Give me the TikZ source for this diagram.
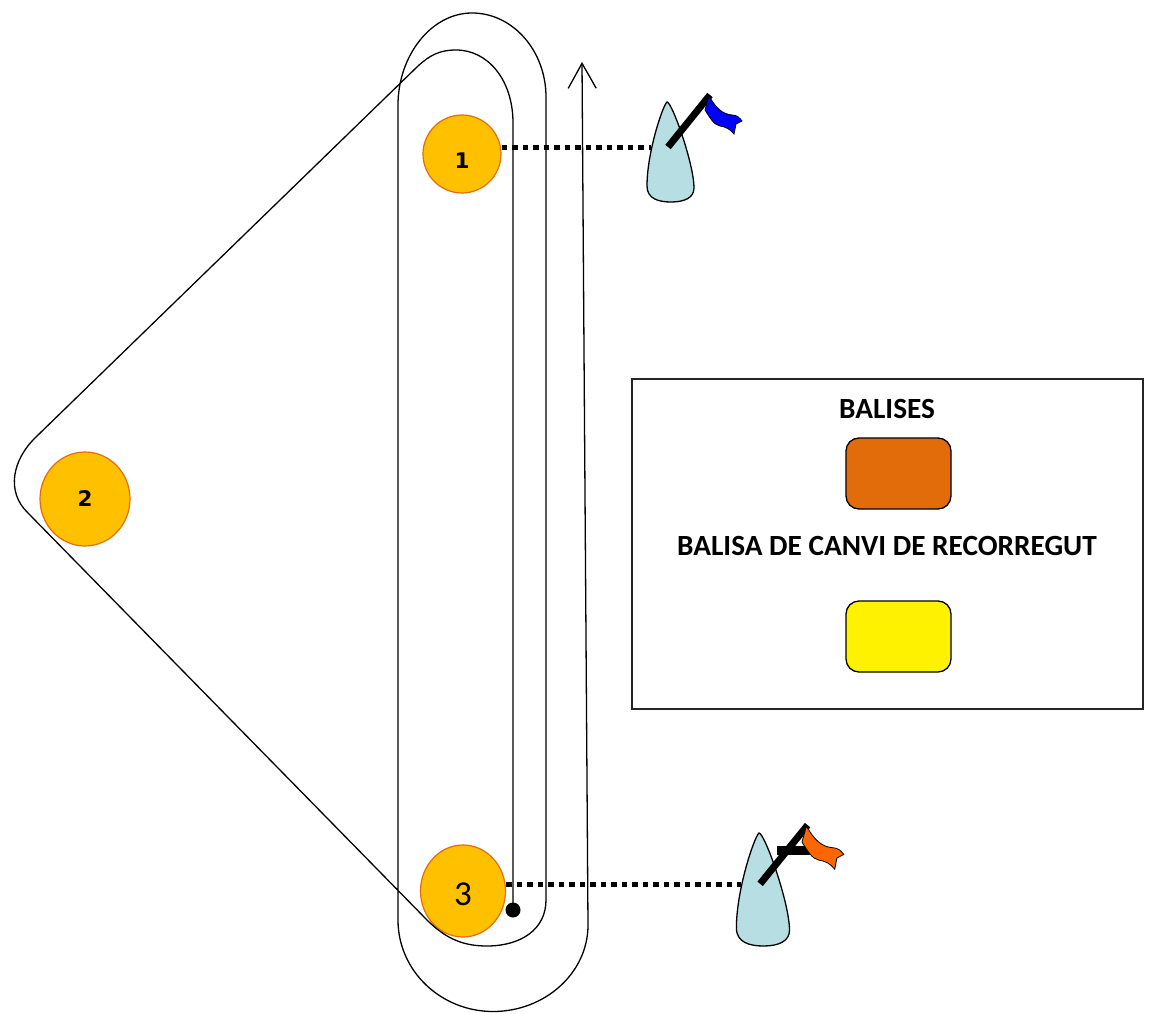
\documentclass[tikz,border=0pt]{standalone}
\usepackage{fontspec}
\newfontfamily\legendfont{Carlito}
\newfontfamily\markfont{DejaVu Sans}
\usetikzlibrary{arrows.meta,shapes.geometric}
\definecolor{buoyfill}{HTML}{FFC000}
\definecolor{buoyedge}{HTML}{E46C0A}
\definecolor{hullblue}{HTML}{B7DEE2}
\definecolor{flagorange}{HTML}{FF6600}
\definecolor{keyorange}{HTML}{E36C0A}
\begin{document}
\begin{tikzpicture}[x=1pt,y=-1pt,>={Straight Barb[length=25pt,width=28pt]},
  course/.style={line width=1.3pt,line join=round},
  buoy/.style={ellipse,draw=buoyedge,fill=buoyfill,line width=1.2pt,inner sep=0pt},
  buoynum/.style={font=\markfont\bfseries\fontsize{21.5}{24}\selectfont},
  tether/.style={line width=5pt,dash pattern=on 5.5pt off 5pt},
  hull/.style={draw,fill=hullblue,line width=1.3pt},
  mast/.style={line width=7pt},
  boat boom/.style={},
  keybox/.style={draw,rounded corners=13pt,line width=1.3pt,minimum width=105pt,minimum height=71pt},
  keytext/.style={font=\legendfont\bfseries\fontsize{29.3}{34}\selectfont},
  pics/boat/.style={code={
    \draw[hull] (0,0) .. controls (-4,3) and (-20,50) .. (-20,84)
      .. controls (-20,97) and (-8,100) .. (4,100)
      .. controls (17,100) and (27,96) .. (27,86)
      .. controls (27,62) and (5,0) .. (0,0) -- cycle;
    \path[boat boom] (16,11.5) rectangle (50,19.5);
    \draw[mast] (1,45) -- (43,-7);
    \draw[fill=#1,line width=0.8pt] (42,-6) .. controls (49,6) and (55,12) .. (65,13)
      .. controls (70,13) and (73,16) .. (75,19) -- (69,22) -- (67,32)
      .. controls (63,27) and (59,25) .. (53,24) .. controls (47,23) and (43,16) .. (38,8) -- cycle;
    \coordinate (-port) at (-16,46);
  }}]
\useasboundingbox (0,0) rectangle (1152,1014);

% marks
\node[buoy,minimum width=78pt,minimum height=78pt,label={[buoynum,yshift=-6.5pt]center:1}] (m1) at (462,154) {};
\node[buoy,minimum width=90pt,minimum height=94pt,label={[buoynum]center:2}] (m2) at (85,499) {};
\node[buoy,minimum width=85pt,minimum height=92pt,label={[font=\legendfont\fontsize{35}{40}\selectfont,yshift=-3.5pt]center:3}] (m3) at (463,891) {};

% course
\node[circle,fill,inner sep=0pt,minimum size=15pt] (start) at (513,910) {};
\draw[course,->] (start.center) -- (513,123)
  .. controls (513,80) and (488,50) .. (456,50)
  .. controls (440,50) and (430,55) .. (418,66)
  -- (36,437) .. controls (12,460) and (6,492) .. (28,513)
  -- (427,920) .. controls (447,940) and (465,946) .. (487,946)
  .. controls (520,946) and (546,930) .. (546,900)
  -- (546,97) .. controls (546,51) and (513,13) .. (472,13)
  .. controls (431,13) and (398,56) .. (398,105)
  -- (398,920) .. controls (398,971) and (441,1011.5) .. (493,1011.5)
  .. controls (545,1011.5) and (588,973) .. (588,925)
  -- (582,62);

% committee boats
\pic (b1) at (667,102) {boat=blue};
\pic[scale=1.13,boat boom/.style={fill=black}] (b2) at (759,833) {boat=flagorange};
\draw[tether] (b1-port -| m1.east) -- (b1-port);
\draw[tether] (b2-port -| m3.east) -- (b2-port);

% legend
\node[draw=black!85,line width=1.5pt,minimum width=511pt,minimum height=330pt] (legend) at (887.5,544) {};
\node[keytext] (keyhead) at (887,409) {BALISES};
\node[keybox,fill=keyorange] (keyA) at (898.5,473.5) {};
\node[keytext] (keyname) at (887,546) {BALISA DE CANVI DE RECORREGUT};
\node[keybox,fill=yellow] (keyB) at (898.5,636.5) {};
\end{tikzpicture}
\end{document}
